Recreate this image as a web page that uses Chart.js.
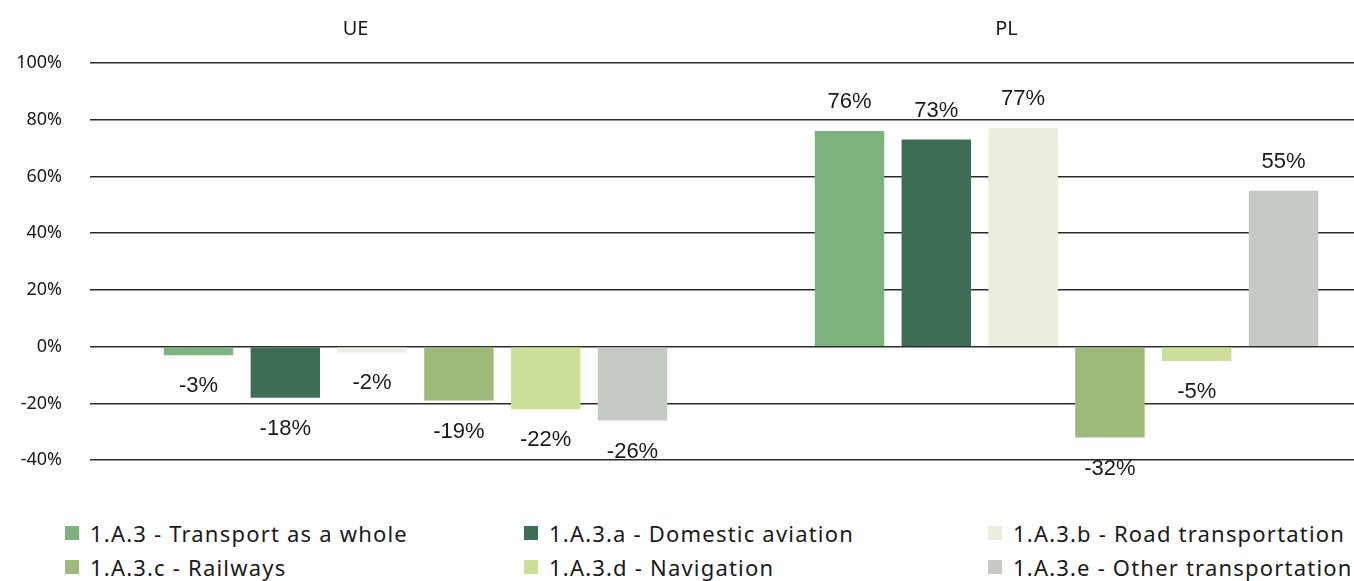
<!DOCTYPE html>
<html>
<head>
<meta charset="utf-8">
<script src="https://cdn.jsdelivr.net/npm/chart.js@4/dist/chart.umd.min.js"></script>
<style>
  html, body { margin: 0; padding: 0; background: #fff; overflow: hidden; }
  body { width: 1354px; height: 581px; position: relative; }
  #wrap { position: absolute; left: 0; top: 0; width: 1394px; height: 499px; }
  #legend { position: absolute; left: 0; top: 517px; width: 1354px; font-family: "Noto Sans", sans-serif; font-size: 22px; letter-spacing: 1.2px; color: #1a1a1a; }
  .item { position: absolute; display: flex; align-items: center; white-space: nowrap; height: 32px; }
  .box { width: 14px; height: 14px; margin-right: 11px; }
</style>
</head>
<body>
<div id="wrap"><canvas id="barChart"></canvas></div>
<div id="legend"></div>
<script>
const categories = ['UE', 'PL'];
const seriesNames = [
    '1.A.3 - Transport as a whole',
    '1.A.3.a - Domestic aviation',
    '1.A.3.b - Road transportation',
    '1.A.3.c - Railways',
    '1.A.3.d - Navigation',
    '1.A.3.e - Other transportation'
];
// change in emissions, % (UE, PL)
const transportWhole = [-3, 76];
const domesticAviation = [-18, 73];
const roadTransport = [-2, 77];
const railways = [-19, -32];
const navigation = [-22, -5];
const otherTransport = [-26, 55];
const yTicks = [-40, -20, 0, 20, 40, 60, 80, 100];

const colors = ['#7db37e', '#3d6e55', '#ebeee1', '#9dba7a', '#cbdf98', '#c6cac4'];
const series = [transportWhole, domesticAviation, roadTransport, railways, navigation, otherTransport];

// percent labels above / below each bar
const valueLabels = {
    id: 'valueLabels',
    afterDatasetsDraw(chart){
        const ctx = chart.ctx;
        ctx.save();
        ctx.font = '22px "Liberation Sans", sans-serif';
        ctx.fillStyle = '#1a1a1a';
        ctx.textAlign = 'center';
        ctx.textBaseline = 'middle';
        chart.data.datasets.forEach((ds, i) => {
            chart.getDatasetMeta(i).data.forEach((bar, j) => {
                let v = ds.data[j];
                let y = v >= 0 ? bar.y - 29 : bar.y + 31;
                ctx.fillText(v + '%', bar.x, y);
            });
        });
        ctx.restore();
    }
};

let chart = new Chart(document.getElementById('barChart'), {
    type: 'bar',
    data: {
        labels: categories,
        datasets: series.map((d, i) => ({
            label: seriesNames[i],
            data: d,
            backgroundColor: colors[i],
            categoryPercentage: 0.8,
            barPercentage: 0.8
        }))
    },
    options: {
        responsive: true,
        maintainAspectRatio: false,
        animation: false,
        layout: { padding: { top: 0, right: 2, bottom: 31, left: 0 } },
        plugins: { legend: { display: false }, tooltip: { enabled: false } },
        scales: {
            x: {
                position: 'top',
                grid: { display: false, drawTicks: false },
                border: { display: false },
                ticks: { color: '#1a1a1a', font: { family: 'Noto Sans', size: 20 }, padding: 22, labelOffset: -60 },
                afterFit(s){ s.height = 63; }
            },
            y: {
                min: yTicks[0],
                max: yTicks[yTicks.length - 1],
                afterBuildTicks(s){ s.ticks = yTicks.map(v => ({ value: v })); },
                grid: { color: '#2b2b2b', lineWidth: 1.6, drawTicks: false },
                border: { display: false },
                ticks: { color: '#1a1a1a', font: { family: 'Noto Sans', size: 18 }, padding: 28, callback: v => v + '%' },
                afterFit(s){ s.width = 90; }
            }
        }
    },
    plugins: [valueLabels]
});

// legend in three columns under the chart
const legend = document.getElementById('legend');
const colX = [65, 524, 988];
chart.data.datasets.forEach((ds, i) => {
    let item = document.createElement('div');
    item.className = 'item';
    item.style.left = colX[i % 3] + 'px';
    item.style.top = (Math.floor(i / 3) * 34) + 'px';
    let box = document.createElement('span');
    box.className = 'box';
    box.style.background = ds.backgroundColor;
    item.appendChild(box);
    item.appendChild(document.createTextNode(ds.label));
    legend.appendChild(item);
});
</script>
</body>
</html>
